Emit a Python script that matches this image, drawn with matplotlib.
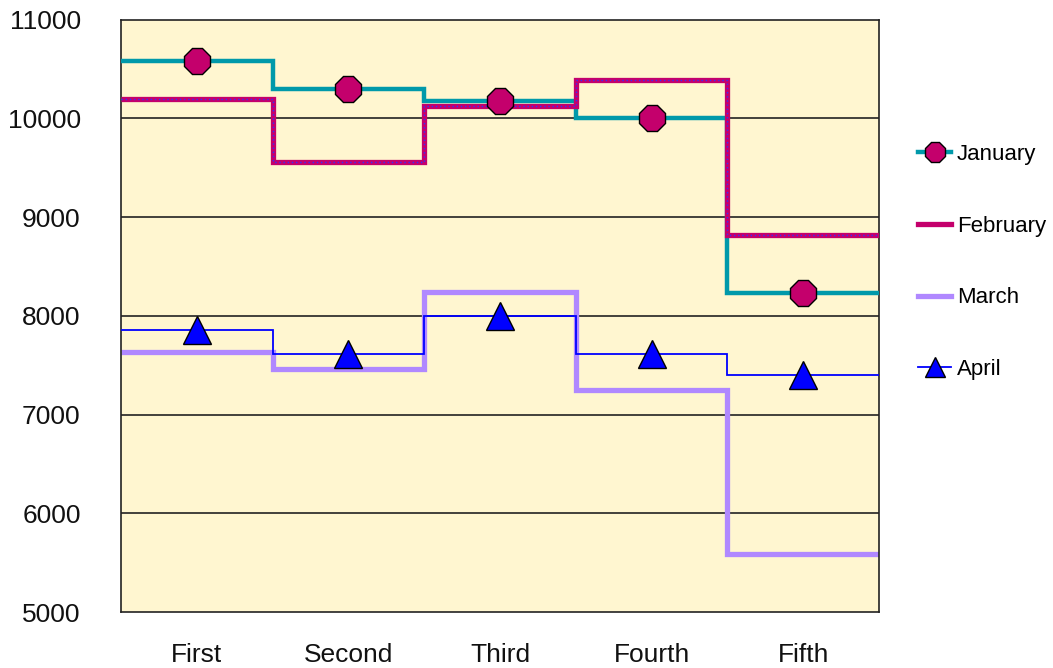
import matplotlib
matplotlib.use('Agg')
import matplotlib.pyplot as plt
import numpy as np
from matplotlib.lines import Line2D

plt.rcParams['font.family'] = ['Liberation Sans', 'DejaVu Sans']

categories = ['First', 'Second', 'Third', 'Fourth', 'Fifth']
january = [10580, 10300, 10170, 10000, 8230]
february = [10200, 9560, 10120, 10390, 8820]
march = [7630, 7460, 8240, 7250, 5590]
april = [7860, 7610, 8000, 7610, 7400]

c_jan = '#0099AA'
c_feb = '#C4006C'
c_mar = '#B088FF'
c_apr = '#0000FF'

fig = plt.figure(figsize=(10.53, 6.68), dpi=100, facecolor='w')
ax = fig.add_axes([121/1053, 1 - 612/668, (879 - 121)/1053, (612 - 19.5)/668])
ax.set_facecolor('#FFF6D0')

x = np.arange(len(categories))
edges = np.arange(len(categories) + 1) - 0.5

for yv in range(6000, 11000, 1000):
    ax.axhline(yv, color='#222222', lw=1.2, zorder=1)

ax.stairs(march, edges, color=c_mar, lw=3.8, baseline=None, zorder=2)
ax.stairs(april, edges, color=c_apr, lw=1.3, baseline=None, zorder=3)
ax.stairs(january, edges, color=c_jan, lw=3.2, baseline=None, zorder=3)
ax.stairs(february, edges, color=c_feb, lw=3.8, baseline=None, zorder=4)
ax.stairs(february, edges, color='#3030FF', lw=1.0, ls=(0, (1, 2)), baseline=None, zorder=5)

ax.plot(x, january, ls='', marker='8', ms=20, mfc=c_feb, mec='black', mew=1.0, zorder=6)
ax.plot(x, april, ls='', marker='^', ms=20, mfc=c_apr, mec='black', mew=1.0, zorder=6)

ax.set_xlim(-0.5, 4.5)
ax.set_ylim(5000, 11000)
ax.set_xticks(x)
ax.set_xticklabels(categories)
ax.set_yticks(range(5000, 11001, 1000))
ax.tick_params(axis='both', length=0, labelsize=19, colors='#111111')
ax.tick_params(axis='y', pad=29)
ax.tick_params(axis='x', pad=22)
for s in ax.spines.values():
    s.set_color('#222222')
    s.set_linewidth(1.2)

handles = [
    Line2D([], [], color=c_jan, lw=3.2, marker='8', ms=15, mfc=c_feb, mec='black'),
    Line2D([], [], color=c_feb, lw=3.8),
    Line2D([], [], color=c_mar, lw=3.8),
    Line2D([], [], color=c_apr, lw=1.3, marker='^', ms=15, mfc=c_apr, mec='black'),
]
fig.legend(handles, ['January', 'February', 'March', 'April'],
           loc='upper left', bbox_to_anchor=(898/1053, 1 - 124/668),
           frameon=False, fontsize=16, labelspacing=2.28,
           handlelength=1.5, handletextpad=0.25)

fig.savefig('out.png', dpi=100, facecolor='w')
